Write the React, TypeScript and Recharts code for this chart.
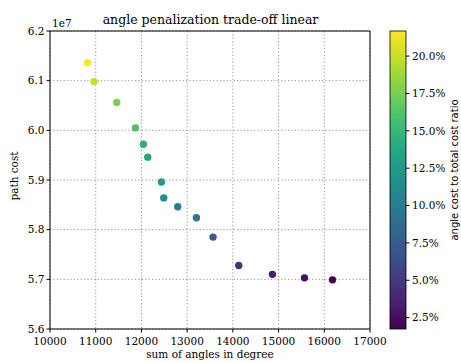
import { ScatterChart, Scatter, XAxis, YAxis, CartesianGrid, ReferenceLine } from "recharts";

const angleSums = [10818, 10963, 11460, 11868, 12044, 12138, 12437, 12488, 12794, 13203, 13567, 14129, 14866, 15567, 16180];
const pathCosts = [61.36e6, 60.98e6, 60.56e6, 60.05e6, 59.72e6, 59.46e6, 58.96e6, 58.64e6, 58.46e6, 58.24e6, 57.85e6, 57.28e6, 57.1e6, 57.03e6, 56.99e6];
const angleRatios = [21.68, 20.0, 17.6, 16.0, 14.6, 13.6, 12.6, 11.5, 10.5, 9.6, 7.6, 4.6, 3.5, 2.6, 1.74];

const xTicks = [10000, 11000, 12000, 13000, 14000, 15000, 16000, 17000];
const yTicks = [5.6e7, 5.7e7, 5.8e7, 5.9e7, 6.0e7, 6.1e7, 6.2e7];
const cbarTicks = [2.5, 5, 7.5, 10, 12.5, 15, 17.5, 20];
const ratioMin = 1.74;
const ratioMax = 21.68;

const viridis = ["#440154", "#482475", "#414487", "#355f8d", "#2a788e", "#21918c", "#22a884", "#44bf70", "#7ad151", "#bddf26", "#fde725"];

function hexToRgb(h: string) {
  return [1, 3, 5].map((i) => parseInt(h.slice(i, i + 2), 16));
}

function colorFor(t: number) {
  const v = Math.max(0, Math.min(1, t)) * (viridis.length - 1);
  const i = Math.min(Math.floor(v), viridis.length - 2);
  const f = v - i;
  const a = hexToRgb(viridis[i]);
  const b = hexToRgb(viridis[i + 1]);
  const c = a.map((x, k) => Math.round(x + (b[k] - x) * f));
  return `rgb(${c[0]},${c[1]},${c[2]})`;
}

const data = angleSums.map((x, i) => ({
  x,
  y: pathCosts[i],
  color: colorFor((angleRatios[i] - ratioMin) / (ratioMax - ratioMin)),
}));

const serif = "DejaVu Serif";
const tickStyle = { fontFamily: serif, fontSize: 10.5, fill: "#000" };

// colorbar geometry
const cbX = 390;
const cbW = 16;
const cbTop = 31;
const cbBottom = 329;
const cbY = (r: number) => cbBottom - ((r - ratioMin) / (ratioMax - ratioMin)) * (cbBottom - cbTop);

export default function App() {
  return (
    <div style={{ position: "absolute", left: 0, top: 0, width: 461, height: 363, background: "#fff", overflow: "hidden" }}>
      <ScatterChart width={461} height={363} margin={{ top: 31, right: 91, bottom: 0, left: 0 }}>
        <CartesianGrid stroke="#888" strokeDasharray="1.2 2.2" strokeWidth={0.9} />
        <XAxis
          type="number"
          dataKey="x"
          domain={[10000, 17000]}
          ticks={xTicks}
          height={34}
          tickSize={3.5}
          tickMargin={5}
          tick={tickStyle}
          axisLine={{ stroke: "#000" }}
          tickLine={{ stroke: "#000" }}
          allowDataOverflow
        />
        <YAxis
          type="number"
          dataKey="y"
          domain={[5.6e7, 6.2e7]}
          ticks={yTicks}
          width={50}
          tickSize={3.5}
          tickMargin={2}
          tick={tickStyle}
          tickFormatter={(v: number) => (v / 1e7).toFixed(1)}
          axisLine={{ stroke: "#000" }}
          tickLine={{ stroke: "#000" }}
          allowDataOverflow
        />
        <ReferenceLine y={6.2e7} stroke="#000" />
        <ReferenceLine x={17000} stroke="#000" />
        <Scatter
          data={data}
          isAnimationActive={false}
          shape={(p: any) => <circle cx={p.cx} cy={p.cy} r={3.7} fill={p.payload.color} />}
        />
      </ScatterChart>
      <svg width={461} height={363} style={{ position: "absolute", left: 0, top: 0, pointerEvents: "none" }}>
        <defs>
          <linearGradient id="vir" x1="0" y1="1" x2="0" y2="0">
            {viridis.map((c, i) => (
              <stop key={c} offset={i / (viridis.length - 1)} stopColor={c} />
            ))}
          </linearGradient>
        </defs>
        <text x={210.5} y={24} textAnchor="middle" fontFamily={serif} fontSize={12.5}>
          angle penalization trade-off linear
        </text>
        <text x={52} y={27} fontFamily={serif} fontSize={10.5}>
          1e7
        </text>
        <text x={210} y={358} textAnchor="middle" fontFamily={serif} fontSize={10.5}>
          sum of angles in degree
        </text>
        <text x={18} y={176} textAnchor="middle" fontFamily={serif} fontSize={10.5} transform="rotate(-90 18 176)">
          path cost
        </text>
        <rect x={cbX} y={cbTop} width={cbW} height={cbBottom - cbTop} fill="url(#vir)" stroke="#000" strokeWidth={0.8} />
        {cbarTicks.map((t) => (
          <g key={t}>
            <line x1={cbX + cbW} x2={cbX + cbW + 3.5} y1={cbY(t)} y2={cbY(t)} stroke="#000" />
            <text x={cbX + cbW + 6} y={cbY(t) + 3.7} fontFamily={serif} fontSize={10.5}>
              {t.toFixed(1)}%
            </text>
          </g>
        ))}
        <text x={458} y={170} textAnchor="middle" fontFamily="DejaVu Sans" fontSize={10} transform="rotate(-90 458 170)">
          angle cost to total cost ratio
        </text>
      </svg>
    </div>
  );
}
